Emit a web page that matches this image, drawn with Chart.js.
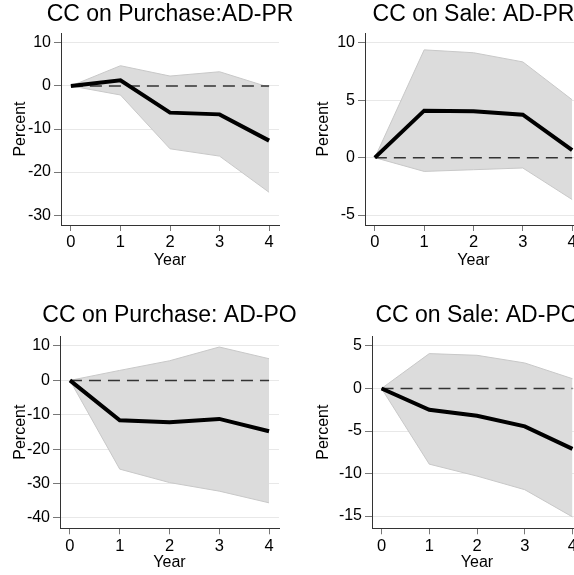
<!DOCTYPE html>
<html>
<head>
<meta charset="utf-8">
<script src="https://cdn.jsdelivr.net/npm/chart.js@4.4.0/dist/chart.umd.min.js"></script>
<style>
  html, body { margin: 0; padding: 0; background: #fff; }
  body { position: relative; width: 574px; height: 575px; overflow: hidden; }
  canvas { position: absolute; }
</style>
</head>
<body>
<canvas id="pur-pr"></canvas>
<canvas id="sale-pr"></canvas>
<canvas id="pur-po"></canvas>
<canvas id="sale-po"></canvas>
<script>
// ---- данные ----
const years    = [0, 1, 2, 3, 4];
const xTicks   = [0, 1, 2, 3, 4];
const zeroLine = [0, 0, 0, 0, 0];

// CC on Purchase: AD-PR
const purPrIrf   = [0, 1.3, -6.2, -6.6, -12.7];
const purPrUpper = [0, 4.7, 2.3, 3.3, -0.3];
const purPrLower = [0, -2.1, -14.6, -16.3, -24.7];
const purPrTicks = [-30, -20, -10, 0, 10];

// CC on Sale: AD-PR
const salePrIrf   = [0, 4.1, 4.05, 3.75, 0.65];
const salePrUpper = [0, 9.4, 9.15, 8.35, 5.05];
const salePrLower = [0, -1.2, -1.05, -0.9, -3.65];
const salePrTicks = [-5, 0, 5, 10];

// CC on Purchase: AD-PO
const purPoIrf   = [0, -11.6, -12.2, -11.2, -14.8];
const purPoUpper = [0, 2.9, 5.7, 9.7, 6.3];
const purPoLower = [0, -25.8, -29.7, -32.2, -35.6];
const purPoTicks = [-40, -30, -20, -10, 0, 10];

// CC on Sale: AD-PO
const salePoIrf   = [0, -2.5, -3.2, -4.45, -7.1];
const salePoUpper = [0, 4.1, 3.9, 3.0, 1.15];
const salePoLower = [0, -8.9, -10.3, -11.9, -15.1];
const salePoTicks = [-15, -10, -5, 0, 5];

const FONT = "'Liberation Sans', Arial, sans-serif";

function pts(arr) {
  return years.map((x, i) => ({ x, y: arr[i] }));
}

function panel(id, o) {
  const cv = document.getElementById(id);
  cv.width = o.w;
  cv.height = o.h;
  cv.style.left = o.left + "px";
  cv.style.top = o.top + "px";

  new Chart(cv, {
    type: "line",
    data: {
      datasets: [
        { data: pts(o.irf), borderColor: "#000", borderWidth: 4, fill: false, order: 0 },
        { data: pts(zeroLine), borderColor: "#333", borderWidth: 1.5, borderDash: [12, 7], fill: false, order: 1 },
        { data: pts(o.upper), borderColor: "#c8c8c8", borderWidth: 1, fill: false, order: 2 },
        { data: pts(o.lower), borderColor: "#c8c8c8", borderWidth: 1, backgroundColor: "#dcdcdc", fill: "-1", order: 3 },
      ],
    },
    options: {
      responsive: false,
      animation: false,
      layout: { padding: 0 },
      elements: { point: { radius: 0 }, line: { tension: 0 } },
      plugins: {
        legend: { display: false },
        tooltip: { enabled: false },
        title: {
          display: true, text: o.title, color: "#000",
          font: { family: FONT, size: 23, weight: "normal", lineHeight: 1.2 },
          padding: o.titlePad,
        },
      },
      scales: {
        x: {
          type: "linear", min: -0.2, max: 4.2,
          afterBuildTicks: s => { s.ticks = xTicks.map(v => ({ value: v })); },
          afterFit: s => { s.height = o.xH; },
          grid: { drawOnChartArea: false, drawTicks: true, tickLength: 6, tickColor: "#777" },
          border: { color: "#333", width: 1 },
          ticks: { color: "#000", font: { family: FONT, size: 16.5 }, padding: 2, maxRotation: 0 },
          title: { display: true, text: "Year", color: "#000", font: { family: FONT, size: 16 }, padding: { top: 0, bottom: o.yearPad } },
        },
        y: {
          min: o.min, max: o.max,
          afterBuildTicks: s => { s.ticks = o.ticks.map(v => ({ value: v })); },
          afterFit: s => { s.width = o.yW; },
          grid: { color: "#e8e8e8", tickColor: "#777", tickLength: 7 },
          border: { color: "#333", width: 1 },
          ticks: { color: "#000", font: { family: FONT, size: 16 }, padding: 3, callback: v => String(v) },
          title: { display: true, text: "Percent", color: "#000", font: { family: FONT, size: 16 }, padding: { top: o.pctPad, bottom: 0 } },
        },
        // пустая ось справа, чтобы заголовок встал по центру области графика
        yR: {
          position: "right", display: true,
          grid: { display: false }, border: { display: false }, ticks: { display: false },
          afterFit: s => { s.width = o.yW; },
        },
      },
    },
  });
}

panel("pur-pr", {
  left: 0, top: 0, w: 340, h: 287, yW: 61, xH: 62,
  title: "CC on Purchase:AD-PR", titlePad: { top: 1, bottom: 4.4 },
  yearPad: 16.6, pctPad: 10.5, min: -32.3, max: 12.3,
  irf: purPrIrf, upper: purPrUpper, lower: purPrLower, ticks: purPrTicks,
});
panel("sale-pr", {
  left: 290, top: 0, w: 367, h: 287, yW: 75, xH: 62,
  title: "CC on Sale: AD-PR", titlePad: { top: 1, bottom: 4.4 },
  yearPad: 16.6, pctPad: 24, min: -5.87, max: 10.87,
  irf: salePrIrf, upper: salePrUpper, lower: salePrLower, ticks: salePrTicks,
});
panel("pur-po", {
  left: 0, top: 290, w: 339, h: 285, yW: 60, xH: 46.7,
  title: "CC on Purchase: AD-PO", titlePad: { top: 12.2, bottom: 6.2 },
  yearPad: 2.6, pctPad: 10.5, min: -43, max: 12.9,
  irf: purPoIrf, upper: purPoUpper, lower: purPoLower, ticks: purPoTicks,
});
panel("sale-po", {
  left: 290, top: 290, w: 374, h: 285, yW: 82, xH: 46.7,
  title: "CC on Sale: AD-PO", titlePad: { top: 12.2, bottom: 6.2 },
  yearPad: 2.6, pctPad: 24, min: -16.44, max: 6.17,
  irf: salePoIrf, upper: salePoUpper, lower: salePoLower, ticks: salePoTicks,
});
</script>
</body>
</html>
